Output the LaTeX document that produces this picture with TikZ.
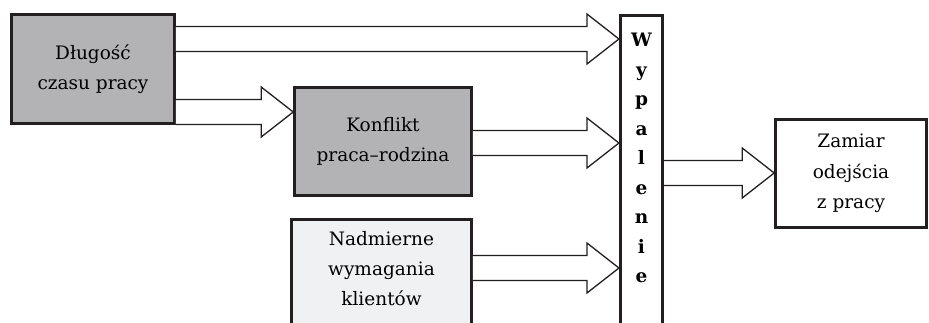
\documentclass[tikz,border=0pt]{standalone}
\usepackage{fontspec}
\setmainfont{DejaVu Serif}
\usetikzlibrary{calc}
\definecolor{ink}{HTML}{231F20}
\definecolor{midgray}{HTML}{B3B3B6}
\definecolor{palegray}{HTML}{F0F1F3}
\tikzset{
  box/.style={draw=ink, line width=2.6pt, inner sep=0pt, align=center,
    font=\fontsize{18.5}{30.5}\selectfont},
  label/.style={inner sep=0pt, align=center, font=\fontsize{18.5}{30}\selectfont},
  fat/.style={fill=white, draw=ink, line width=1.3pt, line join=miter},
}
% hollow block arrow from #1 to #2 (horizontal)
\newcommand\fatarrow[2]{%
  \filldraw[fat] ($(#1)+(0,-12.5)$) -- ($(#2)+(-32,-12.5)$) -- ($(#2)+(-32,-25)$)
    -- (#2) -- ($(#2)+(-32,25)$) -- ($(#2)+(-32,12.5)$) -- ($(#1)+(0,12.5)$);}
\begin{document}
\begin{tikzpicture}[x=1pt,y=-1pt]
  \useasboundingbox (0,0) rectangle (929,322);
  \clip (0,0) rectangle (929,322);

  % row levels of the arrows
  \coordinate (r1) at (0,39);
  \coordinate (r2) at (0,112);
  \coordinate (r3) at (0,143);
  \coordinate (r4) at (0,268);
  \coordinate (r5) at (0,173);

  % boxes
  \node[box, fill=midgray, minimum width=163, minimum height=109] (A) at (93,69)
    {Długość\\czasu pracy};
  \node[box, fill=midgray, minimum width=177, minimum height=108] (K) at (383,141.5)
    {Konflikt\\praca–rodzina};
  \node[box, fill=palegray, minimum width=180, minimum height=140, anchor=north] (N)
    at (381.5,218.3) {};
  \node[label] (Nt) at (381.5,269) {Nadmierne\\wymagania\\klientów};
  \node[box, fill=white, minimum width=42.5, minimum height=340, anchor=north] (W)
    at (641.5,14.3) {};
  \node[inner sep=0pt, align=center, anchor=north,
    font=\fontsize{18.5}{29.5}\selectfont\bfseries] (Wt) at (641.5,33)
    {W\\y\\p\\a\\l\\e\\n\\i\\e};
  \node[box, fill=white, minimum width=151, minimum height=108] (Z) at (851,173.5)
    {Zamiar\\odejścia\\z pracy};

  % arrows
  \fatarrow{A.east |- r1}{W.west |- r1}
  \fatarrow{A.east |- r2}{K.west |- r2}
  \fatarrow{K.east |- r3}{W.west |- r3}
  \fatarrow{N.east |- r4}{W.west |- r4}
  \fatarrow{W.east |- r5}{Z.west |- r5}
\end{tikzpicture}
\end{document}
